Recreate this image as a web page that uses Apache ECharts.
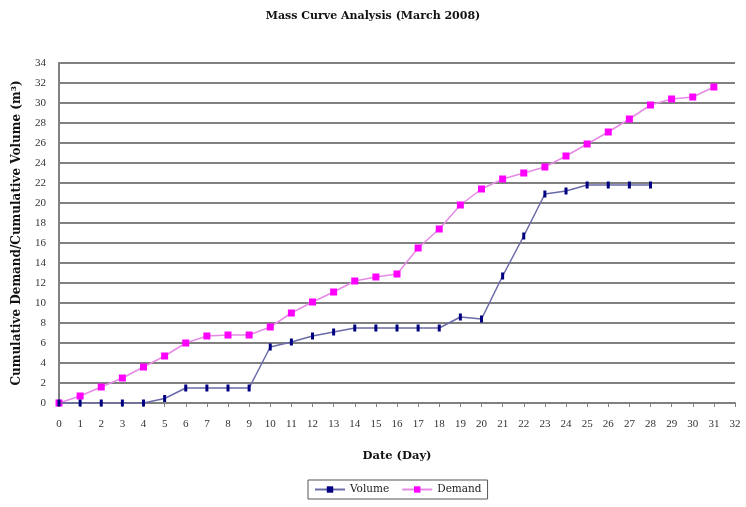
<!DOCTYPE html>
<html><head><meta charset="utf-8">
<script src="https://cdn.jsdelivr.net/npm/echarts@6/dist/echarts.min.js"></script>
<style>html,body{margin:0;padding:0;background:#fff}#c{width:746px;height:507px}</style>
</head><body><div id="c"></div>
<script>
const days = [0,1,2,3,4,5,6,7,8,9,10,11,12,13,14,15,16,17,18,19,20,21,22,23,24,25,26,27,28,29,30,31];
const volume = [0,0,0,0,0,0.45,1.5,1.5,1.5,1.5,5.6,6.1,6.7,7.1,7.5,7.5,7.5,7.5,7.5,8.6,8.4,12.7,16.7,20.9,21.2,21.8,21.8,21.8,21.8];
const demand = [0,0.7,1.6,2.5,3.6,4.7,6.0,6.7,6.8,6.8,7.6,9.0,10.1,11.1,12.2,12.6,12.9,15.5,17.4,19.8,21.4,22.4,23.0,23.6,24.7,25.9,27.1,28.4,29.8,30.4,30.6,31.6];
const yTicks = [0,2,4,6,8,10,12,14,16,18,20,22,24,26,28,30,32,34];

const F = '"Liberation Serif", "Times New Roman", serif';
const W = '"DejaVu Serif", serif';
const chart = echarts.init(document.getElementById('c'));
const pair = (arr) => arr.map((v, i) => [days[i], v]);
chart.setOption({
  backgroundColor: '#fff',
  animation: false,
  title: { text: 'Mass Curve Analysis (March 2008)', left: 'center', top: 6,
    textStyle: { fontFamily: W, fontSize: 11, fontWeight: 'bold', color: '#111' } },
  grid: { left: 59, right: 11, top: 63, bottom: 104 },
  legend: {
    top: 480, left: 308, itemGap: 12, itemWidth: 30, itemHeight: 8,
    borderColor: '#555', borderWidth: 1, padding: [4, 6],
    textStyle: { fontFamily: W, fontSize: 10.5, color: '#222' },
    data: ['Volume', 'Demand']
  },
  xAxis: {
    type: 'value', min: 0, max: 32, interval: 1,
    name: 'Date (Day)', nameLocation: 'middle', nameGap: 47,
    nameTextStyle: { fontFamily: W, fontSize: 11.5, fontWeight: 'bold', color: '#111' },
    axisLine: { lineStyle: { color: '#808080', width: 2 } },
    axisTick: { show: true, length: 4, lineStyle: { color: '#808080' } },
    axisLabel: { fontFamily: F, fontSize: 11, color: '#333', margin: 16 },
    splitLine: { show: false }
  },
  yAxis: {
    type: 'value', min: 0, max: 34, interval: 2,
    name: 'Cumulative Demand/Cumulative Volume (m³)', nameLocation: 'middle', nameGap: 36,
    nameTextStyle: { fontFamily: W, fontSize: 12, fontWeight: 'bold', color: '#111' },
    axisLine: { show: true, lineStyle: { color: '#808080', width: 2 } },
    axisTick: { show: false },
    axisLabel: { fontFamily: F, fontSize: 11, color: '#333', margin: 13,
      formatter: (v) => yTicks.includes(v) ? String(v) : '' },
    splitLine: { show: true, lineStyle: { color: '#808080', width: 2 } }
  },
  series: [
    { name: 'Volume', type: 'line', data: pair(volume),
      symbol: 'rect', symbolSize: [3, 7],
      itemStyle: { color: '#000080' },
      lineStyle: { color: '#6a6aa8', width: 1.5 }, z: 3 },
    { name: 'Demand', type: 'line', data: pair(demand),
      symbol: 'rect', symbolSize: 7,
      itemStyle: { color: '#ff00ff' },
      lineStyle: { color: '#e58ae5', width: 1.5 }, z: 2 }
  ]
});
</script></body></html>
